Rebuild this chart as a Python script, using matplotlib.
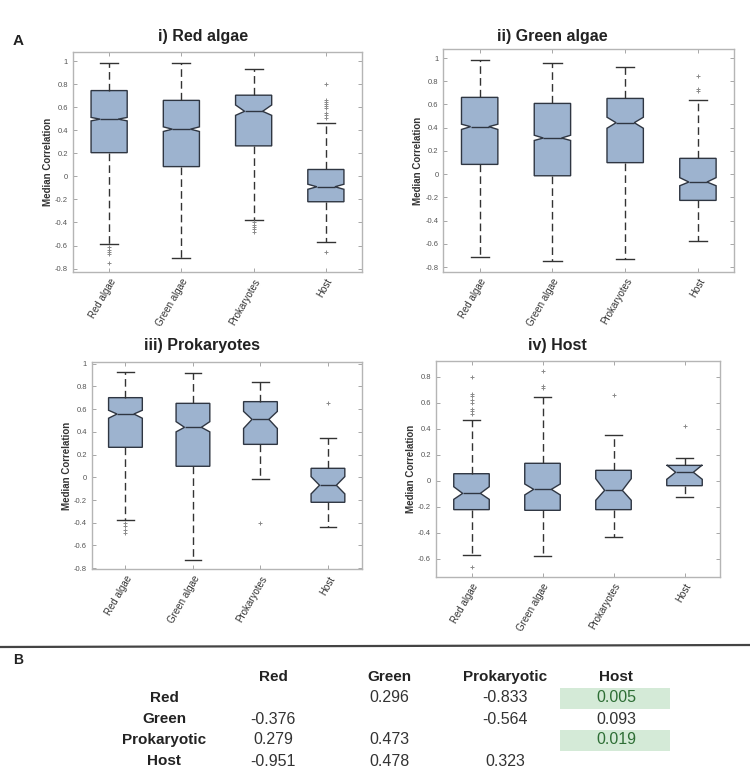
import matplotlib
matplotlib.use("Agg")
import matplotlib.pyplot as plt
from matplotlib.patches import Rectangle
from matplotlib.lines import Line2D
import numpy as np

plt.rcParams['font.family'] = ['Liberation Sans', 'DejaVu Sans']

groups = ["Red algae", "Green algae", "Prokaryotes", "Host"]
titles = ["i) Red algae", "ii) Green algae", "iii) Prokaryotes", "iv) Host"]

# Panel i) Red algae
p1_hi = [0.983, 0.988, 0.935, 0.46]
p1_q3 = [0.745, 0.66, 0.705, 0.06]
p1_med = [0.497, 0.41, 0.565, -0.09]
p1_q1 = [0.206, 0.085, 0.265, -0.22]
p1_lo = [-0.587, -0.71, -0.375, -0.57]
p1_cihi = [0.512, 0.43, 0.62, -0.068]
p1_cilo = [0.482, 0.39, 0.53, -0.112]
p1_fl = [[-0.616, -0.64, -0.654, -0.674, -0.753], [],
         [-0.40, -0.42, -0.44, -0.46, -0.48],
         [0.80, 0.66, 0.65, 0.63, 0.61, 0.59, 0.55, 0.53, 0.51, -0.655]]

# Panel ii) Green algae
p2_hi = [0.985, 0.954, 0.925, 0.641]
p2_q3 = [0.661, 0.609, 0.652, 0.136]
p2_med = [0.409, 0.311, 0.443, -0.068]
p2_q1 = [0.084, -0.014, 0.099, -0.226]
p2_lo = [-0.711, -0.747, -0.73, -0.576]
p2_cihi = [0.43, 0.335, 0.49, -0.03]
p2_cilo = [0.385, 0.29, 0.395, -0.10]
p2_fl = [[], [], [], [0.845, 0.733, 0.716]]

# Panel iii) Prokaryotes
p3_hi = [0.93, 0.921, 0.836, 0.349]
p3_q3 = [0.701, 0.651, 0.666, 0.079]
p3_med = [0.557, 0.44, 0.51, -0.07]
p3_q1 = [0.264, 0.097, 0.29, -0.22]
p3_lo = [-0.378, -0.727, -0.017, -0.434]
p3_cihi = [0.59, 0.49, 0.58, 0.006]
p3_cilo = [0.52, 0.40, 0.43, -0.146]
p3_fl = [[-0.404, -0.433, -0.463, -0.49], [], [-0.40], [0.651]]

# Panel iv) Host
p4_hi = [0.465, 0.644, 0.355, 0.176]
p4_q3 = [0.055, 0.135, 0.081, 0.119]
p4_med = [-0.096, -0.065, -0.073, 0.066]
p4_q1 = [-0.221, -0.226, -0.221, -0.037]
p4_lo = [-0.572, -0.579, -0.434, -0.121]
p4_cihi = [-0.045, -0.024, 0.017, 0.122]
p4_cilo = [-0.142, -0.108, -0.149, 0.012]
p4_fl = [[0.80, 0.665, 0.651, 0.621, 0.60, 0.553, 0.538, 0.512, -0.662],
         [0.846, 0.731, 0.713], [0.657], [0.424]]

panels = [
    (p1_lo, p1_q1, p1_med, p1_q3, p1_hi, p1_cilo, p1_cihi, p1_fl),
    (p2_lo, p2_q1, p2_med, p2_q3, p2_hi, p2_cilo, p2_cihi, p2_fl),
    (p3_lo, p3_q1, p3_med, p3_q3, p3_hi, p3_cilo, p3_cihi, p3_fl),
    (p4_lo, p4_q1, p4_med, p4_q3, p4_hi, p4_cilo, p4_cihi, p4_fl),
]

# Table B
tab_cols = ["Red", "Green", "Prokaryotic", "Host"]
tab_rows = ["Red", "Green", "Prokaryotic", "Host"]
tab_vals = [
    ["", "0.296", "-0.833", "0.005"],
    ["-0.376", "", "-0.564", "0.093"],
    ["0.279", "0.473", "", "0.019"],
    ["-0.951", "0.478", "0.323", ""],
]
tab_highlight = [(0, 3), (2, 3)]

W, H = 750, 771
fig = plt.figure(figsize=(7.5, 7.71), dpi=100)

def fx(x):
    return x / W

def fy(y):
    return 1 - y / H

def fmt(v):
    v = round(float(v), 1)
    if v == 0:
        return '0'
    return '%g' % v

# axes rects in pixel coords: (x0, y0_top, x1, y1_bottom)
ax_px = [(73, 52, 362, 272), (443.3, 49.3, 734.3, 271.7),
         (91.7, 362, 361.7, 569.3), (436, 360.7, 720, 576.7)]
ylims = [(-0.83, 1.08), (-0.84, 1.075), (-0.81, 1.015), (-0.736, 0.923)]
yticks = [np.round(np.arange(-0.8, 1.01, 0.2), 1)] * 3 + [np.round(np.arange(-0.6, 0.81, 0.2), 1)]
title_pos = [(203, 36), (552, 36), (202, 346), (557, 346)]

box_face = '#9db3cf'
edge = '#2f3642'

for k, (px, pan) in enumerate(zip(ax_px, panels)):
    x0, yt, x1, yb = px
    ax = fig.add_axes([fx(x0), fy(yb), fx(x1 - x0), (yb - yt) / H])
    lo, q1, med, q3, hi, cilo, cihi, fl = pan
    stats = []
    for i in range(4):
        stats.append(dict(med=med[i], q1=q1[i], q3=q3[i], whislo=lo[i], whishi=hi[i],
                          cilo=cilo[i], cihi=cihi[i], fliers=fl[i], label=groups[i]))
    ax.bxp(stats, positions=[1, 2, 3, 4], widths=0.5, shownotches=True, patch_artist=True,
           boxprops=dict(facecolor=box_face, edgecolor=edge, linewidth=1.0),
           medianprops=dict(color=edge, linewidth=1.0),
           whiskerprops=dict(color='#333333', linewidth=1.0, linestyle=(0, (5.5, 3))),
           capprops=dict(color='#333333', linewidth=1.0),
           flierprops=dict(marker='+', markersize=3.5, markeredgecolor='#8a8a8a',
                           markeredgewidth=0.7, linestyle='none'))
    ax.set_xlim(0.5, 4.5)
    ax.set_ylim(*ylims[k])
    ax.set_yticks(yticks[k])
    ax.set_yticklabels([fmt(v) for v in yticks[k]])
    ax.set_xticks([1, 2, 3, 4])
    ax.set_xticklabels(groups, rotation=60, ha='right', rotation_mode='anchor',
                       fontsize=7, color='#333333')
    ax.tick_params(axis='y', labelsize=5.5, labelcolor='#555555')
    ax.tick_params(direction='in', top=True, right=True, length=3, width=0.6, color='#999999')
    for s in ax.spines.values():
        s.set_color('#b5b5b5')
        s.set_linewidth(1.0)
    ax.set_ylabel("Median Correlation", fontsize=7, fontweight='bold', color='#333333',
                  labelpad=1.5)
    tx, ty = title_pos[k]
    fig.text(fx(tx), fy(ty), titles[k], fontsize=11.5, fontweight='bold',
             ha='center', va='center', color='#222222')

fig.text(fx(13), fy(41), "A", fontsize=11, fontweight='bold', ha='left', va='center',
         color='#222222')
fig.text(fx(13), fy(660), "B", fontsize=10, fontweight='bold', ha='left', va='center',
         color='#222222')

# separator line
fig.add_artist(Line2D([0, 1], [fy(647), fy(645)], color='#444444', linewidth=1.6,
                      transform=fig.transFigure))

# table
col_x = [273, 389, 505, 616]
row_label_x = 164
header_y = 677
row_y = [698, 719, 740, 761]
for j, c in enumerate(tab_cols):
    fig.text(fx(col_x[j]), fy(header_y), c, fontsize=11, fontweight='bold',
             ha='center', va='center', color='#222222')
for i, r in enumerate(tab_rows):
    fig.text(fx(row_label_x), fy(row_y[i]), r, fontsize=11, fontweight='bold',
             ha='center', va='center', color='#222222')
    for j in range(4):
        v = tab_vals[i][j]
        hl = (i, j) in tab_highlight
        if hl:
            fig.add_artist(Rectangle((fx(560), fy(row_y[i] + 10.5)), fx(110), 21 / H,
                                     transform=fig.transFigure, facecolor='#d4ead7',
                                     edgecolor='none', zorder=0))
        if v:
            fig.text(fx(col_x[j]), fy(row_y[i]), v, fontsize=11.5, ha='center', va='center',
                     color='#2e6e35' if hl else '#333333')

fig.savefig("out.png", dpi=100)
